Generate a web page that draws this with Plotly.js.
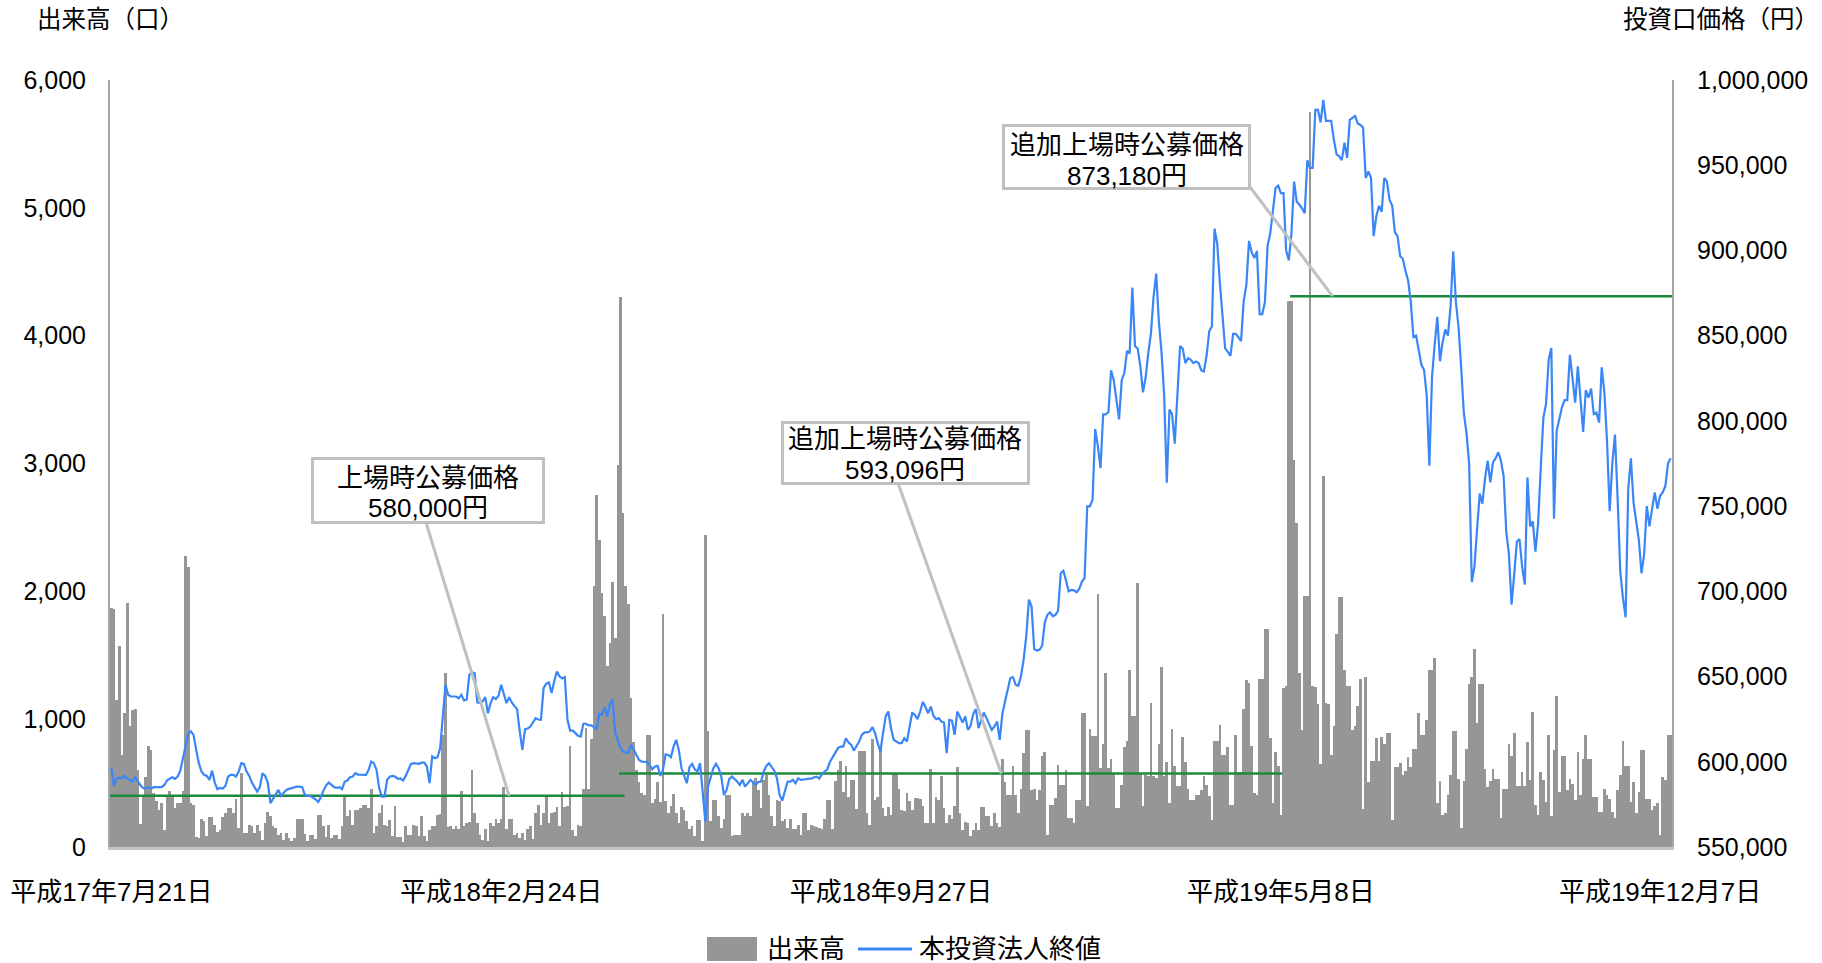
<!DOCTYPE html>
<html><head><meta charset="utf-8">
<script src="https://cdn.plot.ly/plotly-3.0.1.min.js"></script>
<style>html,body{margin:0;padding:0;background:#fff;}#chart{width:1822px;height:963px;}</style>
</head><body><div id="chart"></div>
<script>
// 出来高（口） per trading day
const volume = [
1870,1860,1150,1570,720,1050,1910,950,1075,1080,
600,180,400,550,790,760,420,360,290,345,
135,410,435,400,305,345,345,435,2280,2190,
345,330,80,70,220,200,84,235,235,175,
115,136,235,266,305,305,266,376,150,580,
110,110,175,167,110,175,123,57,188,270,
240,162,146,94,112,57,110,70,44,70,
220,220,220,104,44,94,94,60,253,253,
164,81,172,70,94,94,60,162,410,240,
292,175,287,287,305,330,330,305,450,110,
162,266,330,175,162,214,89,319,78,78,
37,162,97,97,175,167,84,240,89,44,
130,162,162,253,260,880,1360,160,162,141,
162,141,440,162,188,193,600,266,188,97,
57,141,44,188,162,220,188,220,470,141,
220,220,97,110,68,110,57,141,167,63,
266,330,175,266,397,188,266,272,313,162,
430,313,319,790,136,89,175,162,450,930,
450,845,2040,2750,2400,1990,1807,1415,1598,2073,
1637,2990,4300,2611,2040,1900,1167,820,606,506,
423,406,880,880,345,376,506,350,1825,357,
266,319,418,266,188,313,292,201,140,162,
84,214,209,50,2443,906,200,365,365,240,
146,220,410,410,89,97,97,97,266,240,
266,240,514,540,449,305,527,567,410,240,
162,371,360,200,220,150,220,141,141,175,
97,266,266,130,175,162,160,145,141,220,
365,365,141,517,600,674,428,632,392,527,
527,300,749,749,749,266,175,841,371,390,
783,305,245,313,250,580,580,454,292,280,
423,358,292,381,381,376,319,188,188,611,
188,392,371,559,305,188,253,220,319,627,
266,136,193,188,84,130,188,130,313,313,
240,240,162,266,188,158,690,507,410,410,
632,410,266,454,736,914,914,444,454,371,
444,710,740,97,332,332,384,645,488,488,
600,225,225,188,365,365,1050,1050,319,927,
867,867,1977,616,802,1363,616,692,580,305,
305,488,783,833,1381,1023,1023,2068,580,319,
567,554,1128,554,540,802,1410,555,663,345,
924,632,475,475,862,668,454,371,371,410,
410,449,554,486,397,214,833,833,958,723,
723,783,332,332,880,585,585,1081,1303,1285,
789,423,410,1316,1316,1708,1708,854,345,742,
632,253,1245,1258,4270,4270,3026,2531,1363,914,
1963,1963,5750,1258,1250,1115,653,2900,1128,1115,
723,945,1663,1958,1958,1381,1258,1258,914,945,
1100,1318,300,1332,507,676,676,850,676,862,
802,893,893,209,627,627,658,567,598,705,
627,768,768,1050,880,880,990,1381,1381,1475,
345,520,253,266,410,567,911,911,535,149,
520,770,1272,1332,1551,971,1272,1272,614,470,
520,614,535,535,225,457,457,802,710,893,
475,475,585,475,820,522,1055,332,253,585,
522,350,880,240,755,1178,431,710,710,449,
535,494,365,742,410,692,877,692,692,392,
392,272,272,457,410,376,272,227,444,567,
833,632,632,350,507,266,428,755,755,379,
379,287,319,345,97,548,522,880,880
];

// 本投資法人終値（円） per trading day
const closePrice = [
596200,585800,590300,590700,590300,591700,590000,589400,588400,590900,
588400,586200,584500,584500,585100,584300,585100,585100,585100,585100,
586400,589000,590100,590900,590000,591300,594800,602100,609900,616400,
617800,615800,607000,599200,594300,592300,591700,589400,594800,587800,
583900,584700,584300,585800,591300,592300,592300,591300,594100,599200,
598800,594300,591700,587800,585100,582500,585100,593300,591700,587800,
575700,578000,580900,583500,580000,581900,583500,584100,584500,585100,
585400,585400,585100,580500,580000,580000,579200,578000,576400,579200,
583100,586200,587800,586600,585100,584700,585100,583900,588400,589000,
590900,591300,593300,592500,592300,592300,592300,595200,600100,599200,
595200,584500,579600,579600,589400,591300,591700,591300,590000,590300,
589000,591700,595200,598800,599200,599200,598800,599500,599500,597200,
587400,603100,602100,602700,608000,626600,645200,639300,638300,638300,
638300,637300,639300,636000,636400,651000,652400,652000,634800,634400,
635400,637900,628500,634400,637900,636800,638700,645200,639300,634400,
637900,634800,632800,630900,617800,607000,619100,619500,620700,623600,
625600,624800,624600,643200,645800,646500,640300,647100,653000,650100,
648900,649700,624600,618300,618300,616800,615200,614800,622300,622300,
621300,621300,620300,619100,628100,627500,632100,626600,634000,636800,
616800,611900,608000,606000,605400,605400,609900,607000,604000,601100,
600100,600100,599900,598200,595600,597200,597600,591700,595200,604400,
604000,602700,608900,612900,607000,596200,592300,587400,596800,598800,
595600,594300,599200,581500,564900,585400,591300,596200,598800,596200,
591300,580500,583500,589800,591300,590100,588400,586400,589400,585400,
587400,589400,587800,586400,588200,588400,594300,597600,599200,597200,
594800,590300,580500,577200,583500,588400,588400,589400,587400,590300,
589400,589800,589800,590100,590100,590900,591300,590100,592900,594300,
595600,600100,603100,605400,608000,608900,608900,613800,611300,609900,
606600,608900,611900,615800,617200,617200,617800,620300,616800,610900,
606000,616800,626600,629500,619700,612900,611700,610900,610900,613800,
611900,619700,628900,627500,625000,629500,635200,632100,628500,632400,
627000,625000,625600,623600,623000,605000,624600,624200,615800,629500,
626600,623000,626600,618700,621100,628100,630900,619700,624200,628900,
625600,622300,618700,620700,623600,612900,628100,635400,642200,649100,
649700,645200,644600,650100,659900,673600,695100,691200,666100,665300,
665700,668100,681800,686300,687700,685400,686200,688500,710600,712100,
706300,700000,700900,700600,699500,701500,705700,707800,749900,749900,
753700,795200,785200,772300,803800,803800,805200,829600,823900,812400,
800900,823900,828200,841100,839600,878300,843900,842500,832500,816700,
825300,839600,851100,872600,886400,858300,840500,815300,763700,806700,
803800,786600,812400,843900,842500,833900,836800,835900,833900,834800,
833900,829600,829000,838200,852500,855400,912700,904100,881200,861100,
842500,840500,838200,851100,851100,849100,846800,870300,879800,905600,
899000,895500,899800,862600,862600,869700,902700,909900,924700,936600,
938000,933600,933600,900000,894200,910000,940400,928600,926800,924700,
921800,952900,948400,948400,982500,982500,975100,988400,976000,976000,
976000,965000,956400,955200,953000,963200,954300,976600,978000,978900,
974500,973600,972100,942500,946400,942500,908400,920000,926200,922600,
942500,940400,929800,926200,910800,908400,896600,895100,888000,882400,
869900,849200,850000,840300,832900,830000,815100,773700,825500,844700,
861000,835000,846200,853600,850000,866900,899500,869900,855100,831400,
804800,792900,775000,705500,714400,736600,757400,751400,766200,776600,
763900,775700,778100,781600,776600,767700,735200,721800,692200,710000,
729200,730700,714400,704000,766800,738100,741100,723300,739600,772200,
801800,810000,835900,842700,742600,794000,800300,808000,812200,812200,
838800,826000,810700,832000,810700,793500,818000,813600,819000,804000,
804800,799000,831400,816600,788000,747000,775100,792000,754400,711500,
696000,684800,760000,778100,752000,741100,730000,710600,721800,750000,
738100,748500,758000,748500,755900,758000,761800,775100,778100
];

// category-axis labels (trading-day position, label)
const tickIndex = [0, 147, 294, 441, 584];
const tickLabels = ['平成17年7月21日','平成18年2月24日','平成18年9月27日','平成19年5月8日','平成19年12月7日'];

// offering prices and the trading-day span each one is drawn over
const offerPrices = [580000, 593096, 873180];
const offerStartIdx = [0, 192, 445];
const offerEndIdx = [193, 441, 588];
const offerTitles = ['上場時公募価格','追加上場時公募価格','追加上場時公募価格'];

const seriesNames = ['出来高','本投資法人終値'];
const axisTitles = ['出来高（口）','投資口価格（円）'];

// ---------- drawing ----------
const W = 1822, H = 963;
const PL = 110, PT = 80, PW = 1562, PH = 767;
const px = x => (x - PL) / PW;
const py = y => (PT + PH - y) / PH;
const FONT = "'Liberation Sans', 'Noto Sans CJK JP', sans-serif";
const BAR_COLOR = '#969696';
const LINE_COLOR = '#3a86f7';
const GREEN = '#1b8a3c';
const BOX_GRAY = '#c0c0c0';

const idx = volume.map((_, i) => i);
const yMin2 = 550000, yMax2 = 1000000;
const n = volume.length;

const traces = [];
traces.push({
  type: 'bar', x: idx, y: volume, name: seriesNames[0],
  marker: {color: BAR_COLOR, line: {width: 0}}, yaxis: 'y', showlegend: false, hoverinfo: 'skip'
});
offerPrices.forEach((p, k) => {
  traces.push({
    type: 'scatter', mode: 'lines', yaxis: 'y2', showlegend: false, hoverinfo: 'skip',
    x: [offerStartIdx[k] - 0.5, offerEndIdx[k] + 0.5], y: [p, p],
    line: {color: GREEN, width: 2.5}
  });
});
traces.push({
  type: 'scatter', mode: 'lines', x: idx.slice(0, closePrice.length), y: closePrice,
  name: seriesNames[1], yaxis: 'y2', showlegend: false, hoverinfo: 'skip',
  line: {color: LINE_COLOR, width: 2.2}
});

// callout boxes (pixel geometry) with two text rows each
const boxes = [
  {x0: 311, x1: 545, y0: 457, y1: 524, rows: [478, 508], leadFrom: [426.5, 524], leadToIdx: 150},
  {x0: 781, x1: 1030, y0: 421, y1: 485, rows: [439, 469.5], leadFrom: [898, 483], leadToIdx: 335.6},
  {x0: 1002, x1: 1251, y0: 124, y1: 190, rows: [145, 175.5], leadFrom: [1250, 187], leadToIdx: 460.5}
];
const annotations = [];
const shapes = [];
boxes.forEach((b, k) => {
  const ex = b.leadToIdx, ey = offerPrices[k];
  shapes.push({
    type: 'line', xref: 'paper', yref: 'paper', layer: 'above',
    x0: px(b.leadFrom[0]), y0: py(b.leadFrom[1]),
    x1: (ex + 0.5) / n, y1: (ey - yMin2) / (yMax2 - yMin2),
    line: {color: BOX_GRAY, width: 3}
  });
  shapes.push({
    type: 'rect', xref: 'paper', yref: 'paper', layer: 'above',
    x0: px(b.x0 + 1.5), x1: px(b.x1 - 1.5), y0: py(b.y1 - 1.5), y1: py(b.y0 + 1.5),
    fillcolor: '#ffffff', line: {color: BOX_GRAY, width: 3}
  });
  const texts = [offerTitles[k], offerPrices[k].toLocaleString('en-US') + '円'];
  texts.forEach((t, r) => {
    annotations.push({
      xref: 'paper', yref: 'paper', x: px((b.x0 + b.x1) / 2), y: py(b.rows[r]),
      xanchor: 'center', yanchor: 'middle', showarrow: false, text: t,
      font: {family: FONT, size: 26, color: '#000'}
    });
  });
});

// axis titles
annotations.push({xref: 'paper', yref: 'paper', x: px(35), y: py(20), xanchor: 'left', yanchor: 'middle',
  showarrow: false, text: axisTitles[0], font: {family: FONT, size: 24.5, color: '#000'}});
annotations.push({xref: 'paper', yref: 'paper', x: px(1821), y: py(20), xanchor: 'right', yanchor: 'middle',
  showarrow: false, text: axisTitles[1], font: {family: FONT, size: 24.5, color: '#000'}});

// legend (drawn to match reference symbol sizes)
const LY = 949;
shapes.push({type: 'rect', xref: 'paper', yref: 'paper', layer: 'above',
  x0: px(707), x1: px(757), y0: py(LY + 12), y1: py(LY - 12), fillcolor: BAR_COLOR, line: {width: 0}});
annotations.push({xref: 'paper', yref: 'paper', x: px(765), y: py(LY), xanchor: 'left', yanchor: 'middle',
  showarrow: false, text: seriesNames[0], font: {family: FONT, size: 26, color: '#000'}});
shapes.push({type: 'line', xref: 'paper', yref: 'paper', layer: 'above',
  x0: px(858), x1: px(912), y0: py(LY), y1: py(LY), line: {color: LINE_COLOR, width: 3}});
annotations.push({xref: 'paper', yref: 'paper', x: px(917), y: py(LY), xanchor: 'left', yanchor: 'middle',
  showarrow: false, text: seriesNames[1], font: {family: FONT, size: 26, color: '#000'}});

const layout = {
  width: W, height: H,
  margin: {l: PL, r: W - PL - PW, t: PT, b: H - PT - PH, pad: 0},
  paper_bgcolor: '#fff', plot_bgcolor: '#fff',
  font: {family: FONT, color: '#000', size: 24},
  bargap: 0, hovermode: false, showlegend: false,
  xaxis: {
    range: [-0.5, n - 0.5], showgrid: false, zeroline: false,
    showline: true, linecolor: '#c4c4c4', linewidth: 3,
    tickmode: 'array', tickvals: tickIndex, ticktext: tickLabels,
    ticks: 'outside', ticklen: 20, tickcolor: 'rgba(0,0,0,0)',
    tickfont: {family: FONT, size: 26, color: '#000'}
  },
  yaxis: {
    range: [0, 6000], dtick: 1000, tickformat: ',d', showgrid: false, zeroline: false,
    showline: true, linecolor: '#a6a6a6', linewidth: 2,
    ticks: 'outside', ticklen: 17, tickcolor: 'rgba(0,0,0,0)',
    tickfont: {family: FONT, size: 25, color: '#000'}
  },
  yaxis2: {
    range: [yMin2, yMax2], dtick: 50000, tickformat: ',d', overlaying: 'y', side: 'right',
    showgrid: false, zeroline: false, showline: true, linecolor: '#a6a6a6', linewidth: 2,
    ticks: 'outside', ticklen: 18, tickcolor: 'rgba(0,0,0,0)',
    tickfont: {family: FONT, size: 25, color: '#000'}
  },
  shapes: shapes,
  annotations: annotations
};

Plotly.newPlot('chart', traces, layout, {displayModeBar: false, staticPlot: true});
</script>
</body></html>
